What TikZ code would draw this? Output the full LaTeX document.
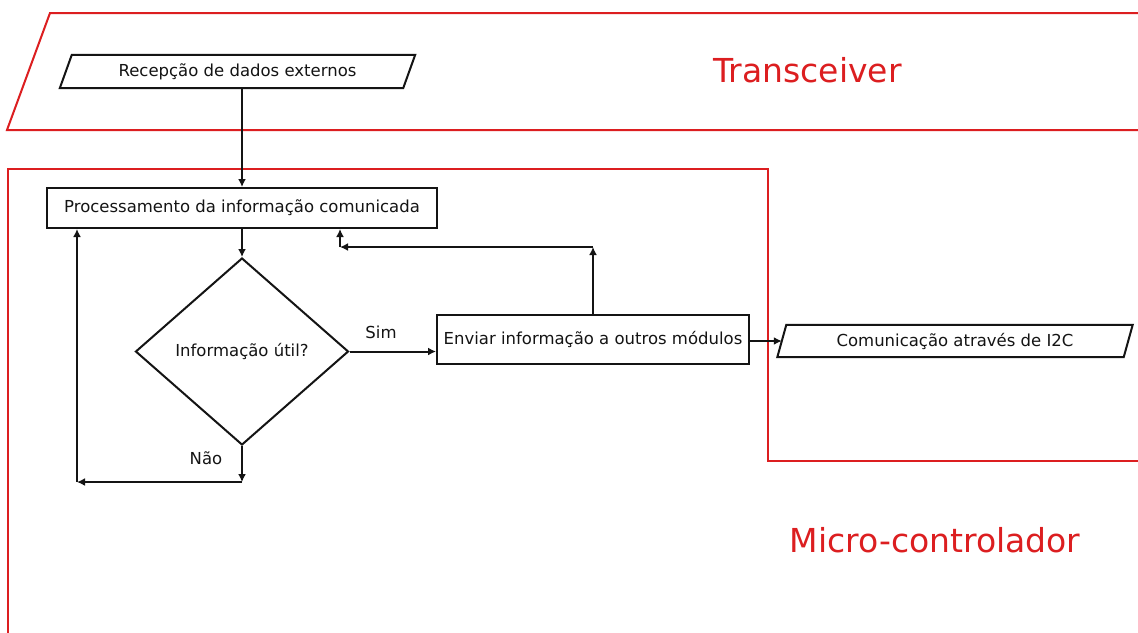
\documentclass[tikz,border=0pt]{standalone}
\usepackage{fontspec}
\setmainfont{DejaVu Sans}
\usetikzlibrary{shapes.geometric,arrows.meta}
\definecolor{zred}{RGB}{220,30,32}
\definecolor{zink}{RGB}{20,20,20}
\tikzset{
  region/.style={draw=zred, line width=2pt},
  regtext/.style={text=zred, font=\fontsize{33}{38}\selectfont, inner sep=0pt},
  box/.style={draw=zink, line width=2pt, inner sep=0pt, font=\fontsize{16.5}{20}\selectfont, text=zink},
  ghost/.style={inner sep=0pt, font=\fontsize{16.5}{20}\selectfont, text=zink},
  lbl/.style={inner sep=0pt, font=\fontsize{16.5}{20}\selectfont, text=zink},
  conn/.style={draw=zink, line width=2pt, -{Latex[length=8pt,width=8pt]}},
}
\begin{document}
\begin{tikzpicture}[x=1pt,y=-1pt]
\useasboundingbox[fill=white] (0,0) rectangle (1138,632);
% regions
\draw[region] (1142,13) -- (50,13) -- (7,130) -- (1142,130);
\draw[region] (8,634) -- (8,169) -- (768,169) -- (768,461) -- (1142,461);
\node[regtext] (trx) at (807.5,70) {Transceiver};
\node[regtext] (mcu) at (935,540) {Micro-controlador};
% input parallelogram
\node[ghost, minimum width=343pt, minimum height=33pt] (rec) at (237.5,71.5) {Recepção de dados externos};
\draw[draw=zink, line width=2pt, line join=miter]
  ([xshift=6pt]rec.north west) -- ([xshift=6pt]rec.north east) --
  ([xshift=-6pt]rec.south east) -- ([xshift=-6pt]rec.south west) -- cycle;
% output parallelogram
\node[ghost, minimum width=346pt, minimum height=32pt] (com) at (955,341) {Comunicação através de I2C};
\draw[draw=zink, line width=2pt, line join=miter]
  ([xshift=4.5pt]com.north west) -- ([xshift=4.5pt]com.north east) --
  ([xshift=-4.5pt]com.south east) -- ([xshift=-4.5pt]com.south west) -- cycle;
% process boxes
\node[box, minimum width=390pt, minimum height=40pt] (proc) at (242,208) {Processamento da informação comunicada};
\node[box, diamond, minimum width=213pt, minimum height=187pt] (dia) at (242,351.5) {Informação útil?};
\node[box, minimum width=312pt, minimum height=49pt] (env) at (593,339.5) {Enviar informação a outros módulos};
% labels
\node[lbl] (sim) at (381,332) {Sim};
\node[lbl] (nao) at (206,458) {Não};
% connectors
\draw[conn] (rec.south -| proc.north) -- (proc.north);
\draw[conn] (proc.south) -- (dia.north);
\draw[conn] (dia.east) -- (dia.east -| env.west);
\draw[conn] (env.east |- com.west) -- (com.west);
\coordinate (fb1) at (593,247);
\coordinate (fb2) at (340,247);
\draw[conn] (env.north) -- (fb1);
\draw[conn] (fb1) -- (fb2);
\draw[conn] (fb2) -- (fb2 |- proc.south);
\coordinate (no1) at (242,482);
\coordinate (no2) at (77,482);
\draw[conn] (dia.south) -- (no1);
\draw[conn] (no1) -- (no2);
\draw[conn] (no2) -- (no2 |- proc.south);
\end{tikzpicture}
\end{document}
